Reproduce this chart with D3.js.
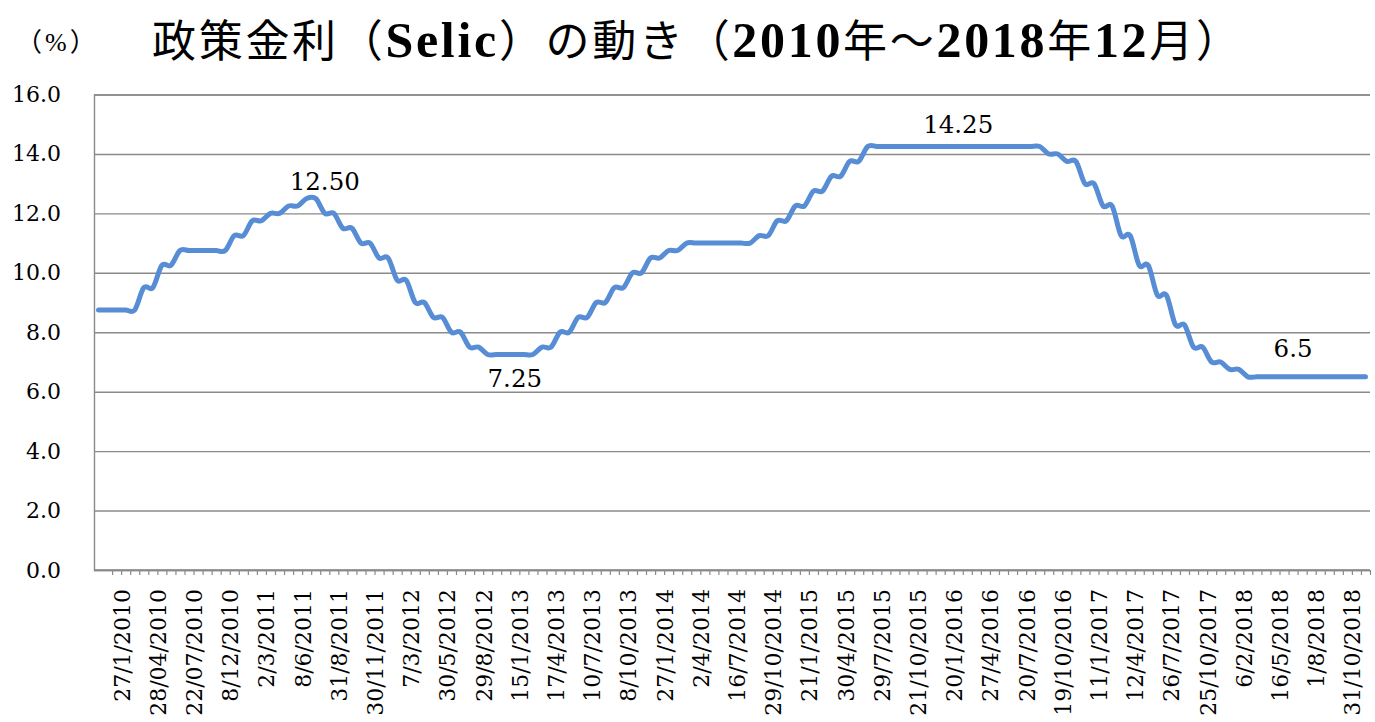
<!DOCTYPE html>
<html><head><meta charset="utf-8">
<script src="https://cdn.jsdelivr.net/npm/d3@7"></script>
<style>
  html,body{margin:0;padding:0;background:#fff;}
  svg{display:block;}
</style>
</head><body>
<svg id="chart" width="1375" height="722"></svg>
<script>
// ---- data ----
const titleText = "政策金利（Selic）の動き（2010年～2018年12月）";
const unitText = "（%）";

// Selic target rate, one value per category
const rates = [
  8.75, 8.75, 8.75, 8.75, 8.75,
  9.5, 9.5,
  10.25, 10.25,
  10.75, 10.75, 10.75, 10.75, 10.75, 10.75,
  11.25, 11.25,
  11.75, 11.75,
  12.0, 12.0,
  12.25, 12.25,
  12.5, 12.5,
  12.0, 12.0,
  11.5, 11.5,
  11.0, 11.0,
  10.5, 10.5,
  9.75, 9.75,
  9.0, 9.0,
  8.5, 8.5,
  8.0, 8.0,
  7.5, 7.5,
  7.25, 7.25, 7.25, 7.25, 7.25, 7.25,
  7.5, 7.5,
  8.0, 8.0,
  8.5, 8.5,
  9.0, 9.0,
  9.5, 9.5,
  10.0, 10.0,
  10.5, 10.5,
  10.75, 10.75,
  11.0, 11.0, 11.0, 11.0, 11.0, 11.0, 11.0, 11.0,
  11.25, 11.25,
  11.75, 11.75,
  12.25, 12.25,
  12.75, 12.75,
  13.25, 13.25,
  13.75, 13.75,
  14.25, 14.25, 14.25, 14.25, 14.25, 14.25, 14.25, 14.25, 14.25, 14.25,
  14.25, 14.25, 14.25, 14.25, 14.25, 14.25, 14.25, 14.25, 14.25, 14.25,
  14.0, 14.0,
  13.75, 13.75,
  13.0, 13.0,
  12.25, 12.25,
  11.25, 11.25,
  10.25, 10.25,
  9.25, 9.25,
  8.25, 8.25,
  7.5, 7.5,
  7.0, 7.0,
  6.75, 6.75,
  6.5, 6.5, 6.5, 6.5, 6.5, 6.5, 6.5, 6.5, 6.5, 6.5, 6.5, 6.5, 6.5, 6.5
];

// category labels shown on the axis (every 4th category)
const tickLabels = [
  "27/1/2010","28/04/2010","22/07/2010","8/12/2010","2/3/2011","8/6/2011",
  "31/8/2011","30/11/2011","7/3/2012","30/5/2012","29/8/2012","15/1/2013",
  "17/4/2013","10/7/2013","8/10/2013","27/1/2014","2/4/2014","16/7/2014",
  "29/10/2014","21/1/2015","30/4/2015","29/7/2015","21/10/2015","20/1/2016",
  "27/4/2016","20/7/2016","19/10/2016","11/1/2017","12/4/2017","26/7/2017",
  "25/10/2017","6/2/2018","16/5/2018","1/8/2018","31/10/2018"
];

const yTickValues = [0, 2, 4, 6, 8, 10, 12, 14, 16];

// data labels: category index, value, text
const dataLabels = [
  { i: 25, v: 12.5,  text: "12.50" },
  { i: 46, v: 7.25,  text: "7.25"  },
  { i: 95, v: 14.25, text: "14.25" },
  { i: 132, v: 6.5,  text: "6.5"   }
];

// ---- layout / style ----
const plot = { left: 94, right: 1370, top: 94.5, bottom: 570 };
const labelDy = { "12.50": -9, "7.25": 32, "14.25": -13.5, "6.5": -19.5 };
const gridColor = "#8a8a8a";
const lineColor = "#568dd4";
const serif = "'DejaVu Serif', 'Liberation Serif', serif";

const svg = d3.select("#chart");
const n = rates.length;

const xEdge = d3.scaleLinear().domain([0, n]).range([plot.left, plot.right]);
const xBand = d3.scaleBand().domain(d3.range(n)).range([plot.left, plot.right]);
const xc = i => xBand(i) + xBand.bandwidth() / 2;
const y = d3.scaleLinear().domain([0, 16]).range([plot.bottom, plot.top]);

// Y axis with gridlines
const yAxis = d3.axisLeft(y)
  .tickValues(yTickValues)
  .tickFormat(d3.format(".1f"))
  .tickSize(-(plot.right - plot.left))
  .tickPadding(33);
const gy = svg.append("g")
  .attr("transform", `translate(${plot.left},0)`)
  .call(yAxis);
gy.select(".domain").attr("stroke", gridColor).attr("stroke-width", 1.4);
gy.selectAll(".tick line").attr("stroke", gridColor).attr("stroke-width", 1.4);
gy.selectAll(".tick text")
  .attr("font-family", serif).attr("font-size", 22).attr("fill", "#000");

// X axis: tick marks at category boundaries
const xTicks = d3.axisBottom(xEdge)
  .tickValues(d3.range(2, n + 1))
  .tickSize(5)
  .tickFormat("");
const gx = svg.append("g")
  .attr("transform", `translate(0,${plot.bottom})`)
  .call(xTicks);
gx.select(".domain").attr("stroke", gridColor).attr("stroke-width", 1.6)
  .attr("d", `M${plot.left},0H${plot.right}`);
gx.selectAll(".tick line").attr("stroke", gridColor).attr("stroke-width", 1.2);

// X axis labels (every 4th category)
const xLab = d3.axisBottom(xEdge)
  .tickValues(tickLabels.map((d, j) => 3 + 4 * j))
  .tickSize(0)
  .tickFormat((d, k) => tickLabels[k]);
const gxl = svg.append("g")
  .attr("transform", `translate(0,${plot.bottom})`)
  .call(xLab);
gxl.select(".domain").remove();
gxl.selectAll(".tick text")
  .attr("font-family", serif).attr("font-size", 22).attr("fill", "#000")
  .attr("text-anchor", "end")
  .attr("transform", "rotate(-90)")
  .attr("x", -19).attr("y", 0).attr("dy", "0.36em");

// Line
const line = d3.line()
  .x((d, i) => xc(i))
  .y(d => y(d))
  .curve(d3.curveCardinal.tension(0));
svg.append("path")
  .datum(rates)
  .attr("d", line)
  .attr("fill", "none")
  .attr("stroke", lineColor)
  .attr("stroke-width", 5)
  .attr("stroke-linecap", "round")
  .attr("stroke-linejoin", "round");

// Data labels
svg.append("g").selectAll("text")
  .data(dataLabels).join("text")
  .attr("x", d => xc(d.i))
  .attr("y", d => y(d.v) + labelDy[d.text])
  .attr("text-anchor", "middle")
  .attr("font-family", serif).attr("font-size", 24.5).attr("fill", "#000")
  .text(d => d.text);

// Title: Latin runs in bold serif, CJK runs in CJK font
const title = svg.append("text")
  .attr("x", 152).attr("y", 57)
  .attr("textLength", 1088).attr("lengthAdjust", "spacing")
  .attr("fill", "#000");
const runs = titleText.match(/[A-Za-z0-9]+|[^A-Za-z0-9]+/g);
runs.forEach(r => {
  const latin = /^[A-Za-z0-9]+$/.test(r);
  title.append("tspan")
    .attr("font-family", latin ? "'Liberation Serif', serif" : "'Noto Sans CJK JP', sans-serif")
    .attr("font-weight", latin ? "bold" : "normal")
    .attr("font-size", latin ? 50 : 44)
    .text(r);
});

// Unit label
svg.append("text")
  .attr("x", 16).attr("y", 51)
  .attr("letter-spacing", 3)
  .attr("font-family", "'Liberation Serif', 'Noto Sans CJK JP', serif")
  .attr("font-size", 26).attr("fill", "#000")
  .text(unitText);
</script>
</body></html>
